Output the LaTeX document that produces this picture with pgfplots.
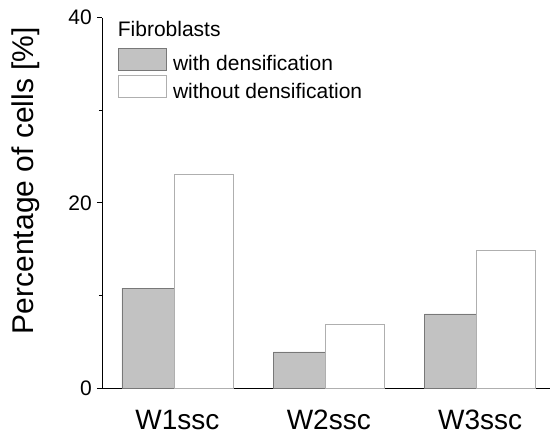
\documentclass[border=0pt]{standalone}
\usepackage{fontspec}
\setmainfont{Liberation Sans}
\usepackage{pgfplots}
\pgfplotsset{compat=1.18}
\definecolor{barfill}{RGB}{194,194,194}
\definecolor{baredge}{RGB}{120,120,120}
\definecolor{whiteedge}{RGB}{175,175,175}
\pgfplotsset{
  mylegend/.style={legend image code/.code={\draw[##1] (0bp,-6bp) rectangle (48bp,16bp);}},
}
\begin{document}
\begin{tikzpicture}
\path[use as bounding box] (-102bp,-52bp) rectangle (448bp,388bp);
\begin{axis}[
  scale only axis, width=448bp, height=370.3bp,
  xmin=-0.499, xmax=2.462, ymin=0, ymax=40,
  axis x line*=bottom, axis y line*=left,
  axis line style={line width=0.9bp},
  ybar,
  xtick={0,1,2}, xticklabels={W1ssc,W2ssc,W3ssc},
  xtick style={draw=none},
  ytick={0,20,40}, minor ytick={10,30},
  tick align=outside, major tick length=5bp, minor tick length=3bp,
  ytick style={line width=0.9bp, black},
  /pgf/number format/assume math mode=true,
  xticklabel style={font=\fontsize{28bp}{32bp}\selectfont, inner sep=0pt, anchor=north, yshift=-17bp},
  yticklabel style={font=\fontsize{21bp}{24bp}\selectfont, inner sep=0pt, anchor=east, xshift=-5bp},
  ylabel={Percentage of cells [\%]},
  ylabel style={at={(axis description cs:-0.170,0.56)}, anchor=center, font=\fontsize{30bp}{34bp}\selectfont},
  legend style={at={(axis description cs:0.035,0.92)}, anchor=north west, draw=none, fill=none,
    font=\fontsize{21bp}{24bp}\selectfont, inner sep=0pt, row sep=3bp,
    nodes={inner sep=0bp},
    /tikz/every odd column/.append style={column sep=6.5bp}},
  legend cell align=left,
]
\addplot[fill=barfill, draw=baredge, line width=0.7bp, bar width=0.344, bar shift=-0.195, mylegend]
  coordinates {(0,10.8) (1,3.9) (2,8.0)};
\addlegendentry{with densification}
\addplot[fill=white, draw=whiteedge, line width=0.7bp, bar width=0.39, bar shift=0.172, mylegend]
  coordinates {(0,23.1) (1,6.9) (2,14.9)};
\addlegendentry{without densification}
\node[anchor=base west, font=\fontsize{21bp}{24bp}\selectfont, inner sep=0pt]
  at (axis description cs:0.035,0.948) {Fibroblasts};
\end{axis}
\end{tikzpicture}
\end{document}
